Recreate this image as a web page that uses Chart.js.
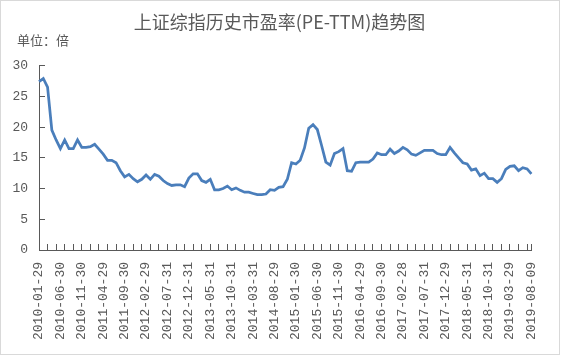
<!DOCTYPE html>
<html>
<head>
<meta charset="utf-8">
<script src="https://cdn.jsdelivr.net/npm/chart.js@4"></script>
<style>
html,body{margin:0;padding:0;background:#fff;}
#wrap{width:565px;height:356px;position:relative;}
</style>
</head>
<body>
<div id="wrap"><canvas id="c" width="565" height="356"></canvas></div>
<script>
const chartTitle = '上证综指历史市盈率(PE-TTM)趋势图';
const unitLabel = '单位：倍';
const tickLabels = ['2010-01-29','2010-06-30','2010-11-30','2011-04-29','2011-09-30','2012-02-29','2012-07-31','2012-12-31','2013-05-31','2013-10-31','2014-03-31','2014-08-29','2015-01-30','2015-06-30','2015-11-30','2016-04-29','2016-09-30','2017-02-28','2017-07-31','2017-12-29','2018-05-31','2018-10-31','2019-03-29','2019-08-09'];
const peValues = [
27.4,27.9,26.5,19.5,17.9,16.5,17.9,16.5,16.5,17.9,
16.7,16.7,16.8,17.2,16.4,15.6,14.6,14.6,14.2,12.9,
11.9,12.3,11.6,11.1,11.5,12.2,11.5,12.3,12.0,11.3,
10.8,10.5,10.6,10.6,10.3,11.7,12.4,12.4,11.3,11.0,
11.5,9.8,9.8,10.0,10.4,9.8,10.1,9.7,9.4,9.4,
9.2,9.0,9.0,9.1,9.8,9.7,10.2,10.3,11.5,14.2,
14.0,14.6,16.6,19.8,20.4,19.6,17.0,14.3,13.8,15.7,
16.0,16.5,12.9,12.8,14.2,14.3,14.3,14.3,14.8,15.8,
15.5,15.5,16.4,15.7,16.1,16.7,16.3,15.6,15.4,15.8,
16.2,16.2,16.2,15.7,15.5,15.5,16.7,15.8,15.0,14.2,
14.0,13.0,13.2,12.1,12.5,11.6,11.6,11.0,11.6,13.1,
13.6,13.7,12.9,13.4,13.2,12.4
];
const labelEvery = 5;
const tickMarkEvery = 2;
const yTicks = [0,5,10,15,20,25,30];

const categories = peValues.map((_, i) => i % labelEvery === 0 ? tickLabels[i / labelEvery] : '');

const gray = '#595959';
const monoFont = {family: '"Liberation Mono", "DejaVu Sans Mono", monospace', size: 13};

const frame = {
  id: 'frame',
  beforeDraw(chart) {
    const ctx = chart.ctx;
    ctx.save();
    ctx.fillStyle = '#fff';
    ctx.fillRect(0, 0, chart.width, chart.height);
    ctx.strokeStyle = '#d9d9d9';
    ctx.lineWidth = 1;
    ctx.strokeRect(0.5, 0.5, 559, 354);
    ctx.restore();
  },
  afterDraw(chart) {
    const ctx = chart.ctx;
    ctx.save();
    ctx.fillStyle = gray;
    ctx.font = '13px "Noto Sans CJK SC", sans-serif';
    ctx.textAlign = 'left';
    ctx.textBaseline = 'middle';
    ctx.fillText(unitLabel, 17, 40);
    ctx.restore();
  }
};

new Chart(document.getElementById('c'), {
  type: 'line',
  data: {
    labels: categories,
    datasets: [{
      data: peValues,
      borderColor: '#4A7EBB',
      borderWidth: 2.75,
      pointRadius: 0,
      tension: 0,
      fill: false
    }]
  },
  options: {
    responsive: false,
    animation: false,
    devicePixelRatio: 1,
    layout: {padding: {left: 10, right: 16, top: 0, bottom: 0}},
    plugins: {
      legend: {display: false},
      tooltip: {enabled: false},
      title: {
        display: true,
        text: chartTitle,
        color: gray,
        font: {family: '"Noto Sans CJK SC", sans-serif', size: 18, weight: 'normal', lineHeight: 1.2},
        padding: {top: 11, bottom: 33}
      }
    },
    scales: {
      x: {
        type: 'category',
        offset: false,
        afterFit: s => { s.height = 106; },
        grid: {
          display: true,
          drawOnChartArea: false,
          drawTicks: true,
          tickLength: -6,
          tickWidth: 1,
          tickColor: c => (c.index % tickMarkEvery === 0 || c.index === peValues.length - 1) ? gray : 'rgba(0,0,0,0)'
        },
        border: {display: true, color: gray, width: 1},
        ticks: {
          autoSkip: false,
          maxRotation: 90,
          minRotation: 90,
          padding: 18,
          color: gray,
          font: monoFont
        }
      },
      y: {
        min: 0,
        max: 30,
        afterFit: s => { s.width = 29; },
        afterBuildTicks: s => { s.ticks = yTicks.map(v => ({value: v})); },
        grid: {
          display: true,
          drawOnChartArea: false,
          drawTicks: true,
          tickLength: -6,
          tickColor: gray
        },
        border: {display: true, color: gray, width: 1},
        ticks: {
          padding: 17,
          color: gray,
          font: monoFont
        }
      }
    }
  },
  plugins: [frame]
});
</script>
</body>
</html>
